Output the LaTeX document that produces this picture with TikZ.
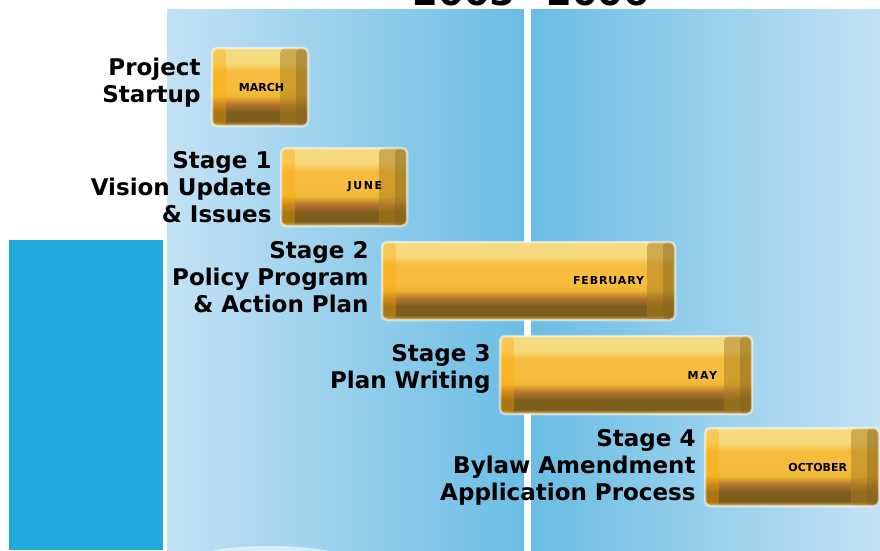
\documentclass[tikz,border=0pt]{standalone}
\usepackage{fontspec}
\setmainfont{DejaVu Sans}
\usetikzlibrary{positioning}
\definecolor{panelpale}{HTML}{C3E2F4}
\definecolor{paneldeep}{HTML}{6BBDE4}
\definecolor{sideblue}{HTML}{22AADD}
\definecolor{goldtop}{HTML}{F6DA80}
\definecolor{goldmid}{HTML}{F7BC3E}
\definecolor{goldband}{HTML}{EBB832}
\definecolor{goldrust}{HTML}{B87430}
\definecolor{golddark}{HTML}{7E5E1C}
\definecolor{goldedge}{HTML}{D8AE5A}
\definecolor{goldcap}{HTML}{A87E1E}
\pgfdeclareverticalshading{goldbar}{100bp}{color(0bp)=(goldedge); color(25bp)=(goldedge); color(28bp)=(golddark); color(34bp)=(golddark); color(39bp)=(goldrust); color(44bp)=(goldband); color(48bp)=(goldmid); color(60bp)=(goldmid); color(66bp)=(goldtop); color(75bp)=(goldtop); color(100bp)=(goldtop)}
\tikzset{
  stagebar/.style={rounded corners=5pt, minimum height=78pt, inner sep=0pt, shade, shading=goldbar,
    draw=white, draw opacity=0.55, line width=2.5pt,
    path picture={
      \fill[goldcap, opacity=0.5] ([xshift=-28pt]path picture bounding box.north east) rectangle (path picture bounding box.south east);
      \fill[golddark, opacity=0.35] ([xshift=-12pt]path picture bounding box.north east) rectangle (path picture bounding box.south east);
      \fill[orange!70!yellow, opacity=0.35] (path picture bounding box.north west) rectangle ([xshift=14pt]path picture bounding box.south west);
    }},
  month/.style={font=\bfseries\fontsize{11}{13}\selectfont, inner sep=0pt, anchor=east},
  stage/.style={font=\bfseries\fontsize{23}{27}\selectfont, align=right, inner sep=0pt}
}
\begin{document}
\begin{tikzpicture}[x=1pt,y=-1pt]
  \clip (0,0) rectangle (880,550);
  \fill[white] (0,0) rectangle (880,550);
  % year panels
  \shade[left color=panelpale, right color=paneldeep] (167,9) rectangle (524,550);
  \shade[left color=paneldeep, right color=panelpale] (531,9) rectangle (880,550);
  \fill[sideblue] (9,240) rectangle (163,550);
  \fill[cyan!8!white, opacity=0.7] (270,557) ellipse (70pt and 11pt);
  \node[font=\bfseries\fontsize{37}{40}\selectfont, anchor=base, inner sep=0pt] (years) at (531,5) {2005\,–\,2006};
  % bars
  \node[stagebar, minimum width=96pt] (march) at (260,87) {};
  \node[stagebar, minimum width=126pt] (june) at (344,187) {};
  \node[stagebar, minimum width=293pt] (feb) at (528.5,281) {};
  \node[stagebar, minimum width=252pt] (may) at (626,375) {};
  \node[stagebar, minimum width=174pt] (oct) at (792,467) {};
  \node[month] (march-m) at ([xshift=-25pt]march.east) {MARCH};
  \node[month] (june-m) at ([xshift=-26pt]june.east) {\addfontfeature{LetterSpace=14}JUNE};
  \node[month] (feb-m) at ([xshift=-32pt]feb.east) {\addfontfeature{LetterSpace=8}FEBRUARY};
  \node[month] (may-m) at ([xshift=-36pt]may.east) {\addfontfeature{LetterSpace=14}MAY};
  \node[month] (oct-m) at ([xshift=-33pt]oct.east) {OCTOBER};
  % stage labels
  \node[stage, left=10pt of march, yshift=4pt] (startup) {Project\\Startup};
  \node[stage, left=8pt of june] (vision) {Stage 1\\Vision Update\\\& Issues};
  \node[stage, left=12pt of feb, yshift=4pt] (policy) {Stage 2\\Policy Program\\\& Action Plan};
  \node[stage, left=8pt of may, yshift=6pt] (writing) {Stage 3\\Plan Writing};
  \node[stage, left=8pt of oct] (bylaw) {Stage 4\\Bylaw Amendment\\Application Process};
\end{tikzpicture}
\end{document}
